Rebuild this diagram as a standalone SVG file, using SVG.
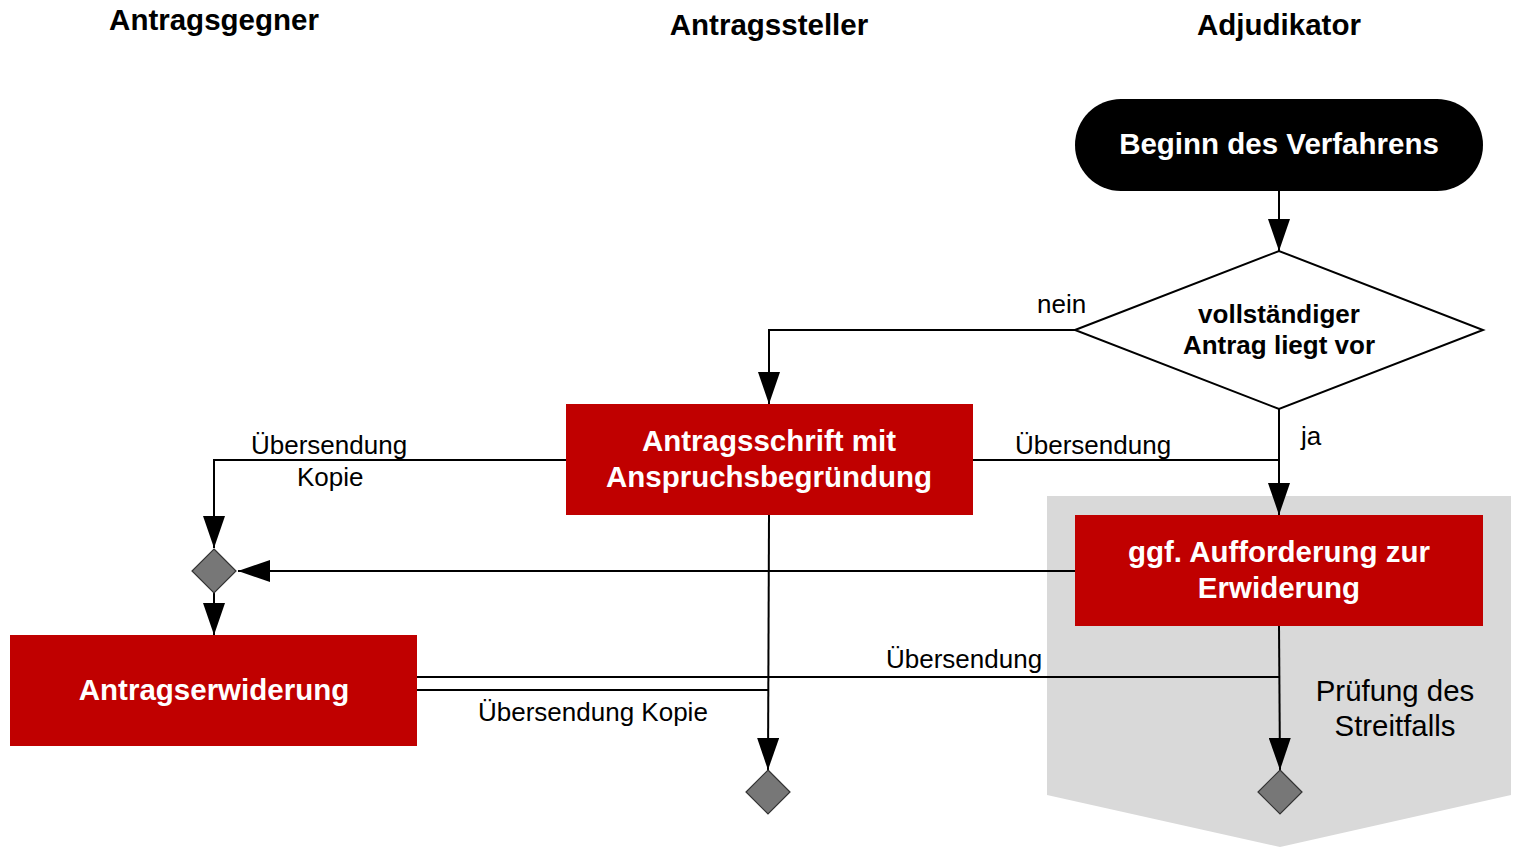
<svg xmlns="http://www.w3.org/2000/svg" width="1513" height="847" viewBox="0 0 1513 847">
<style>
.hdr{font-family:"Liberation Sans",Arial,sans-serif;font-weight:bold;font-size:29.5px;fill:#000;text-anchor:middle}
.bx{fill:#c00000}
.bt{font-family:"Liberation Sans",Arial,sans-serif;font-weight:bold;font-size:29.5px;fill:#fff;text-anchor:middle}
.dt{font-family:"Liberation Sans",Arial,sans-serif;font-weight:bold;font-size:26px;fill:#000;text-anchor:middle}
.lb{font-family:"Liberation Sans",Arial,sans-serif;font-size:26px;fill:#000}
.big{font-family:"Liberation Sans",Arial,sans-serif;font-size:29.4px;fill:#000;text-anchor:middle}
.cn{fill:none;stroke:#000;stroke-width:2}
.sd{fill:#777;stroke:#333;stroke-width:1.2}
</style>
<defs>
<marker id="ah" markerUnits="userSpaceOnUse" markerWidth="32" markerHeight="22" refX="32" refY="11" orient="auto">
<path d="M0,0 L32,11 L0,22 z" fill="#000"/>
</marker>
</defs>
<rect width="1513" height="847" fill="#fff"/>
<g id="lanes">
<text class="hdr" x="214" y="30">Antragsgegner</text>
<text class="hdr" x="769" y="35">Antragssteller</text>
<text class="hdr" x="1279" y="35">Adjudikator</text>
</g>
<g id="pruefung">
<polygon points="1047,496 1511,496 1511,795 1280,847 1047,795" fill="#d9d9d9"/>
<text class="big" x="1395" y="701">Prüfung des</text>
<text class="big" x="1395" y="736">Streitfalls</text>
</g>
<g id="connectors">
<line class="cn" x1="1279" y1="191" x2="1279" y2="251" marker-end="url(#ah)"/>
<polyline class="cn" points="1075,330 769,330 769,404" marker-end="url(#ah)"/>
<line class="cn" x1="1279" y1="409" x2="1279" y2="515" marker-end="url(#ah)"/>
<line class="cn" x1="973" y1="460" x2="1279" y2="460"/>
<polyline class="cn" points="566,460 214,460 214,548" marker-end="url(#ah)"/>
<line class="cn" x1="1075" y1="571" x2="238" y2="571" marker-end="url(#ah)"/>
<line class="cn" x1="214" y1="593" x2="214" y2="635" marker-end="url(#ah)"/>
<line class="cn" x1="769" y1="515" x2="768" y2="770" marker-end="url(#ah)"/>
<line class="cn" x1="1279" y1="626" x2="1280" y2="770" marker-end="url(#ah)"/>
<line class="cn" x1="417" y1="677" x2="1280" y2="677"/>
<line class="cn" x1="417" y1="690" x2="768" y2="690"/>
<text class="lb" x="1037" y="313">nein</text>
<text class="lb" x="1301" y="445">ja</text>
<text class="lb" x="1015" y="454">Übersendung</text>
<text class="lb" x="251" y="454">Übersendung</text>
<text class="lb" x="297" y="486">Kopie</text>
<text class="lb" x="886" y="668">Übersendung</text>
<text class="lb" x="478" y="721">Übersendung Kopie</text>
</g>
<g id="start">
<rect x="1075" y="99" width="408" height="92" rx="46" ry="46" fill="#000"/>
<text class="bt" x="1279" y="154">Beginn des Verfahrens</text>
</g>
<g id="decision">
<polygon points="1075,330 1279,251 1483,330 1279,409" fill="#fff" stroke="#000" stroke-width="2"/>
<text class="dt" x="1279" y="323">vollständiger</text>
<text class="dt" x="1279" y="354">Antrag liegt vor</text>
</g>
<g id="antragsschrift">
<rect class="bx" x="566" y="404" width="407" height="111"/>
<text class="bt" x="769" y="451">Antragsschrift mit</text>
<text class="bt" x="769" y="487">Anspruchsbegründung</text>
</g>
<g id="aufforderung">
<rect class="bx" x="1075" y="515" width="408" height="111"/>
<text class="bt" x="1279" y="562">ggf. Aufforderung zur</text>
<text class="bt" x="1279" y="598">Erwiderung</text>
</g>
<g id="merge">
<polygon class="sd" points="214,549 236,571 214,593 192,571"/>
</g>
<g id="antragserwiderung">
<rect class="bx" x="10" y="635" width="407" height="111"/>
<text class="bt" x="214" y="700">Antragserwiderung</text>
</g>
<g id="end1">
<polygon class="sd" points="768,770 790,792 768,814 746,792"/>
</g>
<g id="end2">
<polygon class="sd" points="1280,770 1302,792 1280,814 1258,792"/>
</g>
</svg>
